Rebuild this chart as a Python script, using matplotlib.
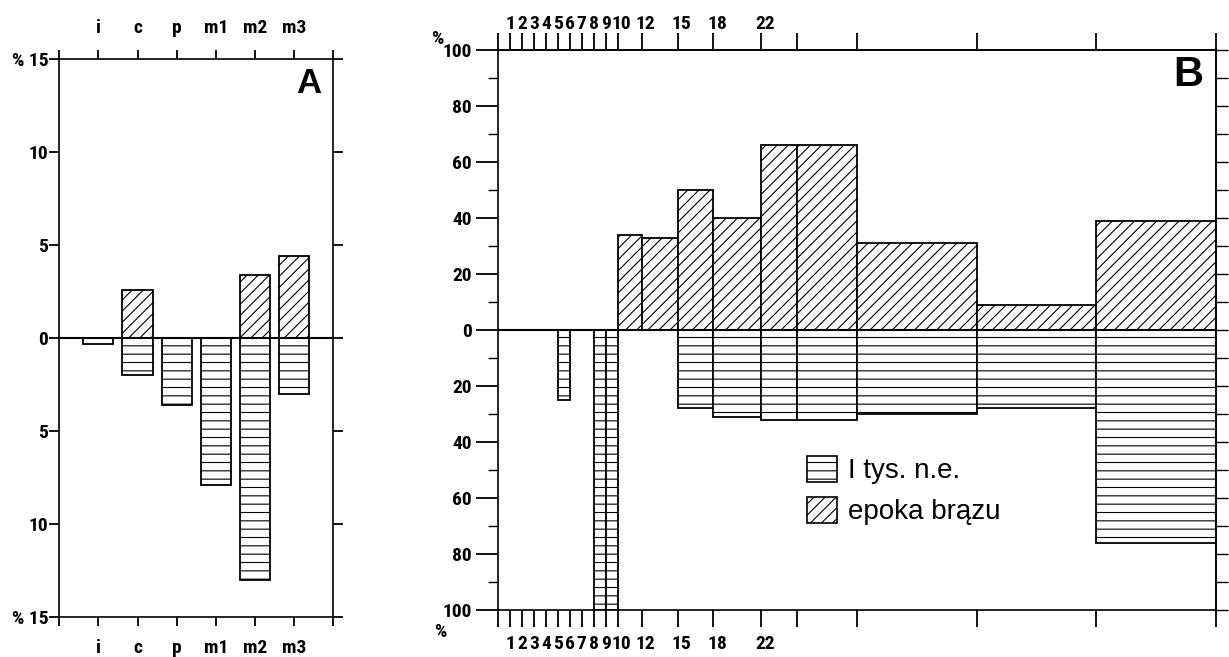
import numpy as np
import matplotlib
matplotlib.use("Agg")
import matplotlib.pyplot as plt
import matplotlib.transforms as mtransforms
from matplotlib import font_manager as fm
from matplotlib.patches import Patch

# panel A: teeth, % difference
teeth = ["i", "c", "p", "m1", "m2", "m3"]
a_bronze = [0.0, 2.6, 0.0, 0.0, 3.4, 4.4]
a_first_mill = [0.3, 2.0, 3.6, 7.9, 13.0, 3.0]

# panel B: classes (bin edges) and %
b_bronze_lo = [10, 12, 15, 18, 22, 25, 30, 40, 50]
b_bronze_hi = [12, 15, 18, 22, 25, 30, 40, 50, 60]
b_bronze = [34, 33, 50, 40, 66, 66, 31, 9, 39]
b_first_lo = [5, 8, 9, 15, 18, 22, 25, 30, 40, 50]
b_first_hi = [6, 9, 10, 18, 22, 25, 30, 40, 50, 60]
b_first = [25, 100, 100, 28, 31, 32, 32, 30, 28, 76]
b_xticks = [0, 1, 2, 3, 4, 5, 6, 7, 8, 9, 10, 12, 15, 18, 22, 25, 30, 40, 50, 60]
b_xlabels = ["", "1", "2", "3", "4", "5", "6", "7", "8", "9", "10",
             "12", "15", "18", "22", "", "", "", "", ""]

# look for a narrow / condensed sans for the tick labels
names = set(f.name for f in fm.fontManager.ttflist)
narrow = None
for cand in ["Liberation Sans Narrow", "Arial Narrow", "DejaVu Sans Condensed",
             "Roboto Condensed", "Open Sans Condensed", "Noto Sans Condensed"]:
    if cand in names:
        narrow = cand
        break
if narrow is None:
    for f in fm.fontManager.ttflist:
        if "Narrow" in f.name or "Condensed" in f.name:
            narrow = f.name
            break

if narrow:
    plt.rcParams['font.family'] = [narrow, 'Liberation Sans', 'DejaVu Sans']
    tsize = 14
else:
    plt.rcParams['font.family'] = ['Liberation Sans', 'DejaVu Sans']
    tsize = 13
plt.rcParams['font.weight'] = 'bold'
plt.rcParams['hatch.linewidth'] = 0.8
plt.rcParams['axes.linewidth'] = 1.2

W, H = 1229, 657
fig = plt.figure(figsize=(W / 100, H / 100), dpi=100)

# ---------------- A ----------------
axA = fig.add_axes([59.3 / W, 1 - 616.7 / H, 273.7 / W, 557.4 / H])
x = np.arange(1, len(teeth) + 1)
axA.bar(x, a_bronze, width=0.77, color='white', edgecolor='black',
        hatch='///', lw=1.3)
axA.bar(x, -np.array(a_first_mill), width=0.77, color='white',
        edgecolor='black', hatch='--', lw=1.3)
axA.axhline(0, color='black', lw=1.5, zorder=5)

axA.set_xlim(0, 7)
axA.set_ylim(-15, 15)
axA.set_xticks(range(8))
axA.set_xticklabels([""] + teeth + [""])
axA.tick_params(axis='x', top=True, labeltop=True, bottom=True,
                labelbottom=True, direction='out', length=6.5, width=1.3,
                pad=9.5, labelsize=tsize)
a_yt = [-15, -10, -5, 0, 5, 10, 15]
axA.set_yticks(a_yt)
axA.set_yticklabels(["% 15" if abs(v) == 15 else str(abs(v)) for v in a_yt])
axA.tick_params(axis='y', left=True, right=True, direction='out',
                length=7, width=1.3, pad=1, labelsize=tsize)
axA.text(0.912, 0.956, "A", transform=axA.transAxes, fontsize=25,
         fontweight='heavy', family='Liberation Sans', ha='center',
         va='center')

# ---------------- B ----------------
axB = fig.add_axes([498 / W, 1 - 610 / H, 718 / W, 560 / H])
axB.bar(b_bronze_lo, b_bronze, width=np.subtract(b_bronze_hi, b_bronze_lo),
        align='edge', color='white', edgecolor='black', hatch='///', lw=1.3)
axB.bar(b_first_lo, -np.array(b_first),
        width=np.subtract(b_first_hi, b_first_lo), align='edge',
        color='white', edgecolor='black', hatch='--', lw=1.3)
axB.axhline(0, color='black', lw=1.5, zorder=5)

axB.set_xlim(0, 60)
axB.set_ylim(-100, 100)
b_yt = np.arange(-100, 101, 20)
axB.set_yticks(b_yt)
axB.set_yticklabels([str(abs(v)) for v in b_yt])
axB.set_yticks(np.arange(-90, 100, 20), minor=True)
axB.tick_params(axis='y', which='major', left=True, right=False,
                direction='out', length=15.5, width=1.3, pad=3.5,
                labelsize=tsize)
axB.tick_params(axis='y', which='minor', left=True, right=False,
                direction='out', length=7, width=1.0)

axB.set_xticks(b_xticks)
axB.set_xticklabels(b_xlabels)
axB.tick_params(axis='x', bottom=True, top=False, direction='out',
                length=12, width=1.3, pad=6, labelsize=tsize)

secx = axB.secondary_xaxis('top')
secx.set_xticks(b_xticks)
secx.set_xticklabels(b_xlabels)
secx.tick_params(direction='out', length=12, width=1.3, pad=0.5,
                 labelsize=tsize)

secy = axB.secondary_yaxis('right')
secy.set_yticks(np.arange(-100, 101, 10))
secy.set_yticklabels([])
secy.tick_params(direction='out', length=8.5, width=1.0)

# two-digit labels sit a little right of their ticks, as in the original
shift = mtransforms.ScaledTranslation(4 / 100, 0, fig.dpi_scale_trans)
for lbl in axB.get_xticklabels() + secx.get_xticklabels():
    if len(lbl.get_text()) == 2:
        lbl.set_transform(lbl.get_transform() + shift)

axB.text(-0.085, 1.02, "%", transform=axB.transAxes, fontsize=tsize,
         ha='center', va='center')
axB.text(-0.081, -0.039, "%", transform=axB.transAxes, fontsize=tsize,
         ha='center', va='center')
axB.text(0.961, 0.955, "B", transform=axB.transAxes, fontsize=30,
         fontweight='heavy', family='Liberation Sans', ha='center',
         va='center')

handles = [Patch(facecolor='white', edgecolor='black', hatch='--', lw=1.2),
           Patch(facecolor='white', edgecolor='black', hatch='///', lw=1.2)]
axB.legend(handles, ["I tys. n.e.", "epoka brązu"], loc='upper left',
           bbox_to_anchor=(0.43, 0.275), frameon=False,
           prop={'family': 'Liberation Sans', 'weight': 'normal', 'size': 20},
           handlelength=1.1, handleheight=1.05, handletextpad=0.4,
           labelspacing=0.45, borderpad=0, borderaxespad=0)

fig.savefig("out.png", dpi=100)
